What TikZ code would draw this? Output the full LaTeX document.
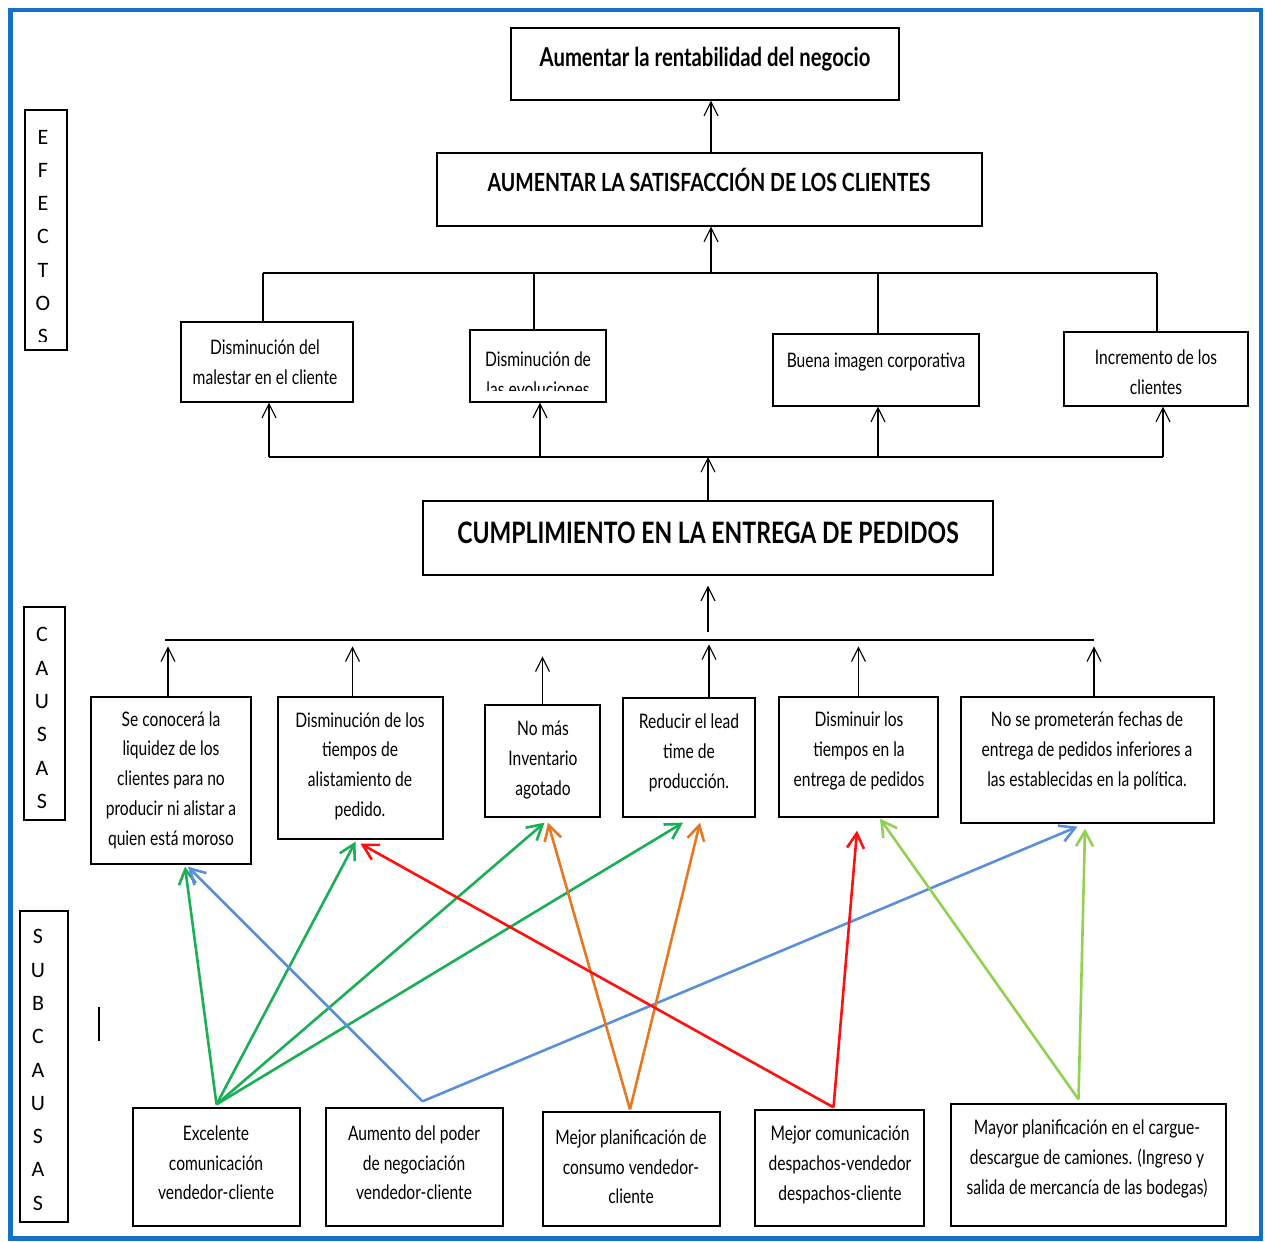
\documentclass[tikz,border=0pt]{standalone}
\usepackage{fontspec}
\setmainfont{Lato}[FakeStretch=0.78]
\newfontfamily\letfont{Carlito}
\usetikzlibrary{arrows.meta,fit}
\definecolor{frameblue}{HTML}{1570C8}
\definecolor{cgreen}{HTML}{1AAF54}
\definecolor{cblue}{HTML}{5B8FD9}
\definecolor{corange}{HTML}{E87722}
\definecolor{cred}{HTML}{FF1010}
\definecolor{clight}{HTML}{92D050}
\tikzset{
  box/.style={draw, line width=1.3pt, inner sep=0pt},
  txt/.style={align=center, inner sep=0pt, font=\fontsize{20}{29.7}\selectfont},
  lettxt/.style={align=center, inner sep=0pt, font=\letfont\fontsize{22}{33.3}\selectfont},
  blk/.style={line width=1.1pt, -{Straight Barb[length=14pt,width=14pt,line width=1.1pt]}},
  plain/.style={line width=1.3pt},
  col/.style={line width=2.6pt, -{Straight Barb[length=15pt,width=17pt,line width=2.6pt]}}
}
\begin{document}
\begin{tikzpicture}[x=1pt,y=-1pt]
\useasboundingbox (0,0) rectangle (1265,1241);
\draw[frameblue, line width=4.5pt] (10.5,10) rectangle (1261,1238.5);

% ---------- side labels ----------
\node[box, fit={(25,110) (67,350)}] (lefe) {};
\begin{scope}
\clip (25,110) rectangle (67,341);
\node[lettxt] (lefet) at (43,237) {E\\F\\E\\C\\T\\O\\S};
\end{scope}
\node[box, fit={(24,607) (65,820)}] (lcau) {};
\node[lettxt] (lcaut) at (42,718) {C\\A\\U\\S\\A\\S};
\node[box, fit={(20,911) (68,1222)}] (lsub) {};
\node[lettxt] (lsubt) at (38,1070) {S\\U\\B\\C\\A\\U\\S\\A\\S};
\coordinate (barA) at (99,1007);
\coordinate (barB) at (99,1041);
\draw[line width=1.4pt] (barA) -- (barB);

% ---------- top ----------
\node[box, fit={(511,28) (899,100)}] (top) {};
\node[txt, font=\bfseries\fontsize{26}{30}\selectfont] (topt) at (705,59) {Aumentar la rentabilidad del negocio};
\node[box, fit={(437,153) (982,226)}] (sat) {};
\node[txt, font=\bfseries\fontsize{25}{30}\selectfont] (satt) at (709,180) {AUMENTAR LA SATISFACCIÓN DE LOS CLIENTES};
\coordinate (ax) at (711,0);
\draw[blk] (ax |- sat.north) -- (ax |- top.south);

% ---------- effects ----------
\node[box, fit={(181,322) (353,402)}] (b1) {};
\node[txt] (b1t) at (265,362) {Disminución del\\malestar en el cliente};
\node[box, fit={(470,330) (606,402)}] (b2) {};
\begin{scope}
\clip (470,330) rectangle (606,390);
\node[txt] (b2t) at (538,374) {Disminución de\\las evoluciones};
\end{scope}
\node[box, fit={(773,334) (979,406)}] (b3) {};
\node[txt] (b3t) at (876,362) {Buena imagen corporativa};
\node[box, fit={(1064,332) (1248,406)}] (b4) {};
\node[txt] (b4t) at (1156,372) {Incremento de los\\clientes};

\coordinate (eL) at (263,273);
\coordinate (eR) at (1157,273);
\draw[plain] (eL) -- (eR);
\draw[blk] (ax |- eL) -- (ax |- sat.south);
\draw[plain] ([xshift=-4pt]b1.north) -- ([xshift=-4pt]b1.north |- eL);
\draw[plain] ([xshift=-4pt]b2.north) -- ([xshift=-4pt]b2.north |- eL);
\draw[plain] ([xshift=2pt]b3.north) -- ([xshift=2pt]b3.north |- eL);
\draw[plain] ([xshift=1pt]b4.north) -- ([xshift=1pt]b4.north |- eL);

\coordinate (fL) at (269,457);
\coordinate (fR) at (1163,457);
\draw[plain] (fL) -- (fR);
\draw[blk] ([xshift=2pt]b1.south |- fL) -- ([xshift=2pt]b1.south);
\draw[blk] ([xshift=2pt]b2.south |- fL) -- ([xshift=2pt]b2.south);
\draw[blk] ([xshift=2pt]b3.south |- fL) -- ([xshift=2pt]b3.south);
\draw[blk] ([xshift=7pt]b4.south |- fL) -- ([xshift=7pt]b4.south);

% ---------- main ----------
\node[box, fit={(423,501) (993,575)}] (cum) {};
\node[txt, font=\bfseries\fontsize{29.5}{34}\selectfont] (cumt) at (708,533) {CUMPLIMIENTO EN LA ENTREGA DE PEDIDOS};
\draw[blk] (cum.north) -- (cum.north |- fL);

% ---------- causes ----------
\coordinate (gL) at (165,640);
\coordinate (gR) at (1094,640);
\draw[plain] (gL) -- (gR);
\draw[blk] (cum.south |- 0,632) -- ([yshift=-10pt]cum.south);

\node[box, fit={(91,697) (251,864)}] (c1) {};
\node[txt] (c1t) at (171,780) {Se conocerá la\\liquidez de los\\clientes para no\\producir ni alistar a\\quien está moroso};
\node[box, fit={(278,697) (443,839)}] (c2) {};
\node[txt] (c2t) at (360,766) {Disminución de los\\tiempos de\\alistamiento de\\pedido.};
\node[box, fit={(485,705) (600,817)}] (c3) {};
\node[txt] (c3t) at (543,760) {No más\\Inventario\\agotado};
\node[box, fit={(623,698) (755,817)}] (c4) {};
\node[txt] (c4t) at (689,753) {Reducir el lead\\time de\\producción.};
\node[box, fit={(779,697) (938,817)}] (c5) {};
\node[txt] (c5t) at (859,751) {Disminuir los\\tiempos en la\\entrega de pedidos};
\node[box, fit={(961,697) (1214,823)}] (c6) {};
\node[txt] (c6t) at (1087,751) {No se prometerán fechas de\\entrega de pedidos inferiores a\\las establecidas en la política.};

\draw[blk] ([xshift=-3pt]c1.north) -- ++(0,-50);
\draw[blk] ([xshift=-8pt]c2.north) -- ++(0,-50);
\draw[blk] (c3.north) -- ++(0,-48);
\draw[blk] ([xshift=20pt]c4.north) -- ++(0,-53);
\draw[blk] (c5.north) -- ++(0,-50);
\draw[blk] ([xshift=6.5pt]c6.north) -- ++(0,-50);

% ---------- subcauses ----------
\node[box, fit={(133,1108) (300,1226)}] (s1) {};
\node[txt] (s1t) at (216,1163) {Excelente\\comunicación\\vendedor-cliente};
\node[box, fit={(326,1108) (503,1226)}] (s2) {};
\node[txt] (s2t) at (414,1163) {Aumento del poder\\de negociación\\vendedor-cliente};
\node[box, fit={(543,1112) (720,1226)}] (s3) {};
\node[txt] (s3t) at (631,1167) {Mejor planificación de\\consumo vendedor-\\cliente};
\node[box, fit={(755,1110) (924,1226)}] (s4) {};
\node[txt] (s4t) at (840,1165) {Mejor comunicación\\despachos-vendedor\\despachos-cliente};
\node[box, fit={(951,1104) (1226,1226)}] (s5) {};
\node[txt] (s5t) at (1087,1159) {Mayor planificación en el cargue-\\descargue de camiones. (Ingreso y\\salida de mercancía de las bodegas)};

% green
\draw[col, cgreen] ([yshift=3pt]s1.north) -- ([xshift=14pt,yshift=-2pt]c1.south);
\draw[col, cgreen] ([yshift=3pt]s1.north) -- ([xshift=-5pt,yshift=-2pt]c2.south);
\draw[col, cgreen] ([yshift=3pt]s1.north) -- ([xshift=2pt,yshift=-5pt]c3.south);
\draw[col, cgreen] ([yshift=3pt]s1.north) -- ([xshift=-6pt,yshift=-5pt]c4.south);
% blue
\draw[col, cblue] ([xshift=8pt,yshift=6pt]s2.north) -- ([xshift=17pt,yshift=-2pt]c1.south);
\draw[col, cblue] ([xshift=8pt,yshift=6pt]s2.north) -- ([xshift=-10pt,yshift=-3pt]c6.south);
% orange
\draw[col, corange] ([xshift=-1.5pt,yshift=2pt]s3.north) -- ([xshift=5.5pt,yshift=-5pt]c3.south);
\draw[col, corange] ([xshift=-1.5pt,yshift=2pt]s3.north) -- ([xshift=11pt,yshift=-5pt]c4.south);
% red
\draw[col, cred] ([xshift=-6pt,yshift=2pt]s4.north) -- ([xshift=0pt,yshift=-4pt]c2.south);
\draw[col, cred] ([xshift=-6pt,yshift=2pt]s4.north) -- ([xshift=-1.5pt,yshift=-13pt]c5.south);
% light green
\draw[col, clight] ([xshift=-10pt,yshift=4pt]s5.north) -- ([xshift=21.5pt,yshift=-1pt]c5.south);
\draw[col, clight] ([xshift=-10pt,yshift=4pt]s5.north) -- ([xshift=-2.5pt,yshift=-5pt]c6.south);
\end{tikzpicture}
\end{document}
